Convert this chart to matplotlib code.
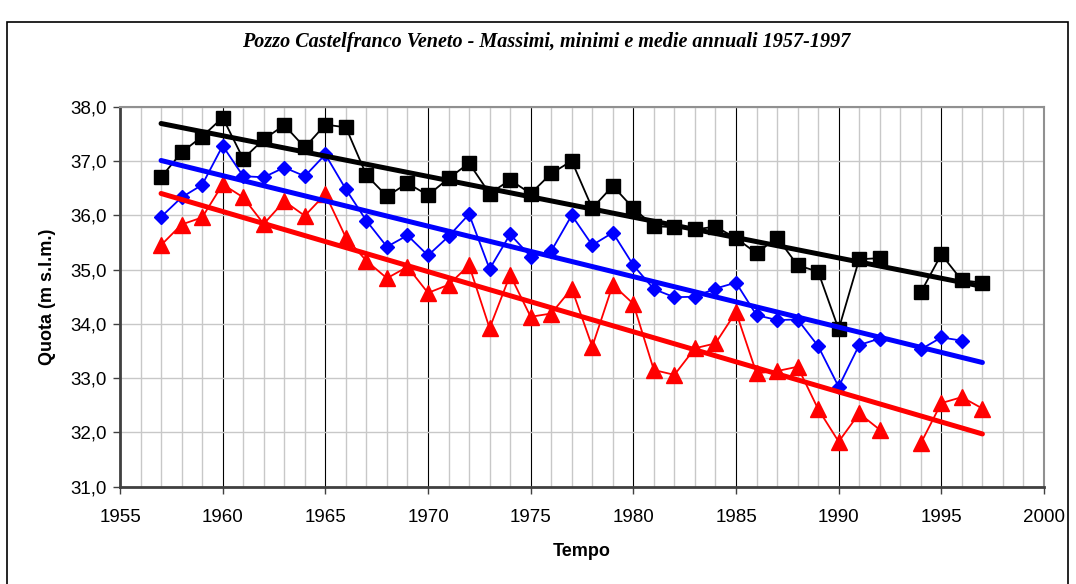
import numpy as np
import matplotlib
matplotlib.use('Agg')
import matplotlib.pyplot as plt
from matplotlib.ticker import MultipleLocator, FuncFormatter
from matplotlib.patches import Rectangle

# Dati: anni e quote (NaN = dato mancante)
anni = np.arange(1957, 1998)
massimi = [36.70, 37.16, 37.45, 37.80, 37.04, 37.40, 37.66, 37.25, 37.67, 37.62,
           36.74, 36.35, 36.59, 36.37, 36.68, 36.96, 36.40, 36.65, 36.40, 36.77,
           37.00, 36.13, 36.54, 36.13, 35.80, 35.78, 35.74, 35.79, 35.58, 35.30,
           35.59, 35.08, 34.96, 33.90, 35.19, 35.21, np.nan, 34.58, 35.28, 34.80,
           34.76]
medie = [35.97, 36.33, 36.56, 37.28, 36.72, 36.70, 36.88, 36.72, 37.12, 36.48,
         35.90, 35.42, 35.63, 35.26, 35.61, 36.02, 35.01, 35.65, 35.24, 35.34,
         36.00, 35.45, 35.68, 35.08, 34.64, 34.49, 34.50, 34.65, 34.76, 34.16,
         34.07, 34.08, 33.59, 32.84, 33.61, 33.73, np.nan, 33.53, 33.75, 33.69,
         np.nan]
minimi = [35.45, 35.83, 35.96, 36.57, 36.33, 35.84, 36.26, 35.99, 36.39, 35.59,
          35.16, 34.84, 35.05, 34.57, 34.72, 35.08, 33.92, 34.90, 34.13, 34.19,
          34.65, 33.58, 34.72, 34.37, 33.15, 33.06, 33.55, 33.64, 34.22, 33.09,
          33.13, 33.21, 32.43, 31.83, 32.35, 32.05, np.nan, 31.80, 32.54, 32.65,
          32.44]

serie = [
    (massimi, 'black', 's', 10),
    (medie, 'blue', 'D', 7.5),
    (minimi, 'red', '^', 11),
]

fig = plt.figure(figsize=(10.76, 5.84), dpi=100)
ax = fig.add_axes([120 / 1076, 1 - 486.7 / 584, 924 / 1076, 380 / 584])

# Bordo dell'area del grafico
fig.patches.append(Rectangle((7 / 1076, -0.1), 1061 / 1076, 1.1 - 22 / 584,
                             transform=fig.transFigure, fill=False,
                             edgecolor='black', linewidth=1.2))

for valori, colore, marker, ms in serie:
    y = np.array(valori, dtype=float)
    ax.plot(anni, y, color=colore, marker=marker, markersize=ms, linewidth=1.3,
            markeredgecolor=colore, zorder=3)
    # linea di tendenza lineare
    ok = ~np.isnan(y)
    p = np.polyfit(anni[ok], y[ok], 1)
    ax.plot([1957, 1997], np.polyval(p, [1957, 1997]), color=colore,
            linewidth=3.6, zorder=4, solid_capstyle='round')

ax.set_xlim(1955, 2000)
ax.set_ylim(31, 38)
ax.xaxis.set_major_locator(MultipleLocator(5))
ax.xaxis.set_minor_locator(MultipleLocator(1))
ax.yaxis.set_major_locator(MultipleLocator(1))
ax.yaxis.set_major_formatter(FuncFormatter(lambda v, pos: f"{v:.1f}".replace('.', ',')))

ax.grid(which='minor', axis='x', color='#c8c8c8', linewidth=1)
ax.grid(which='major', axis='x', color='black', linewidth=0.8)
ax.grid(which='major', axis='y', color='#c8c8c8', linewidth=1)
ax.set_axisbelow(True)

ax.tick_params(which='minor', length=0)
ax.tick_params(which='major', direction='out', length=5, width=1, color='#404040',
               labelsize=13.5)
ax.tick_params(axis='x', pad=11)
ax.tick_params(axis='y', pad=4.5)
for lab in ax.get_xticklabels() + ax.get_yticklabels():
    lab.set_family('Liberation Sans')

for lato in ['top', 'right']:
    ax.spines[lato].set_color('#909090')
    ax.spines[lato].set_linewidth(1.5)
for lato in ['left', 'bottom']:
    ax.spines[lato].set_color('#404040')
    ax.spines[lato].set_linewidth(2)

ax.set_xlabel('Tempo', fontsize=13, fontweight='bold', family='Liberation Sans', labelpad=12)
ax.set_ylabel('Quota (m s.l.m.)', fontsize=13, fontweight='bold', family='Liberation Sans', labelpad=10)

fig.text(546 / 1076, 1 - 42 / 584,
         'Pozzo Castelfranco Veneto - Massimi, minimi e medie annuali 1957-1997',
         ha='center', va='center', fontsize=14.5, fontweight='bold', fontstyle='italic',
         family='Liberation Serif')

fig.savefig('out.png', dpi=100)
